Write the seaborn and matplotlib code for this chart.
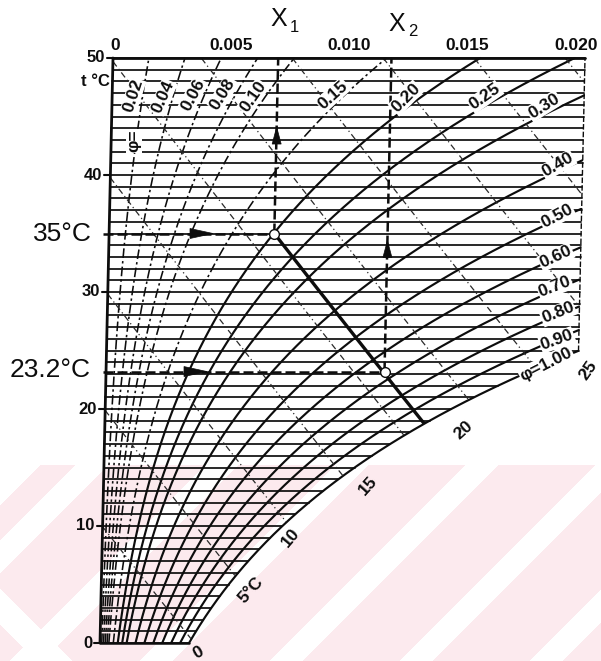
import numpy as np
import pandas as pd
import matplotlib
matplotlib.use("Agg")
import matplotlib.pyplot as plt
import seaborn as sns
from matplotlib.patches import Polygon

# ---------------- data ----------------
phi_levels = [0.02, 0.04, 0.06, 0.08, 0.10, 0.15, 0.20, 0.25, 0.30,
              0.40, 0.50, 0.60, 0.70, 0.80, 0.90, 1.00]
phi_dashed = [0.02, 0.04, 0.06, 0.08, 0.10, 0.15]
phi_label_text = ["0.02", "0.04", "0.06", "0.08", "0.10", "0.15", "0.20", "0.25",
                  "0.30", "0.40", "0.50", "0.60", "0.70", "0.80", "0.90", "φ=1.00"]
isotherms = list(range(0, 51))
enthalpy_levels = [10, 20, 30, 40, 50, 60, 70, 80, 90, 100]
wetbulb_labels = ["0", "5°C", "10", "15", "20", "25"]
x_ticks = [0.0, 0.005, 0.010, 0.015, 0.020]
x_tick_labels = ["0", "0.005", "0.010", "0.015", "0.020"]
t_ticks = [0, 10, 20, 30, 40, 50]
X1, X2 = 0.0070, 0.0118
T_in, T_out = 35.0, 23.2
P_atm = 101.325

# ---------------- layout ----------------
W, H, DPI = 601, 661, 100
PX_X = 23600.0
PX_T = 11.7
X0_PX, T0_PY = 113.0, 643.0
SK = 13.0 / 50.0 / PX_X   # slight shear of the scanned chart
INK = "#0d0d0d"


def psat(T):
    return 0.61094 * np.exp(17.625 * T / (T + 243.04))


def xw(T, phi):
    ps = psat(T)
    return 0.622 * phi * ps / (P_atm - phi * ps)


def enth(T, x):
    return 1.006 * T + x * (2501 + 1.86 * T)


def sx(x, T):
    return np.asarray(x) - SK * (50 - np.asarray(T))


def d(px, py):
    return (px - X0_PX) / PX_X, (T0_PY - py) / PX_T


def to_px(x, T):
    return X0_PX + x * PX_X, T0_PY - T * PX_T


sns.set_theme(style="white")
plt.rcParams["font.family"] = ["Liberation Sans", "DejaVu Sans"]

fig = plt.figure(figsize=(W / DPI, H / DPI), dpi=DPI)
fig.patch.set_facecolor("white")

# faint pink watermark stripes (lower part of the scan)
yy, xx = np.mgrid[0:H, 0:W]
img = np.ones((H, W, 3))
mask = (yy >= 465) & (((xx + yy - 930) % 130) >= 33) & (xx + yy >= 505)
mask &= ~((xx < 130) & ((yy - xx) > 588) & ((yy - xx) < 625))
img[mask] = np.array([252, 234, 238]) / 255.0
fig.figimage(img, xo=0, yo=0, origin="upper", zorder=-10)

ax = fig.add_axes([0, 0, 1, 1])
ax.patch.set_alpha(0)
ax.set_xlim(-X0_PX / PX_X, (W - X0_PX) / PX_X)
ax.set_ylim(-(H - T0_PY) / PX_T, T0_PY / PX_T)
ax.axis("off")

Tgrid = np.round(np.arange(0, 50.0001, 0.05), 4)

# ---- isotherms ----
rows = []
for T in isotherms:
    xe = min(float(xw(T, 1.0)), 0.020)
    for xv in (0.0, xe):
        rows.append(dict(T=T, xp=float(sx(xv, T)), id=T))
iso = pd.DataFrame(rows)
sns.lineplot(data=iso, x="xp", y="T", units="id", estimator=None, sort=False,
             color=INK, lw=1.25, ax=ax)

# ---- relative humidity curves ----
rows_s, rows_d = [], []
for phi in phi_levels:
    xs = xw(Tgrid, phi)
    keep = xs <= 0.0200001
    for T, xv in zip(Tgrid[keep], xs[keep]):
        r = dict(T=T, xp=float(sx(xv, T)), phi=phi)
        (rows_d if phi in phi_dashed else rows_s).append(r)
sns.lineplot(data=pd.DataFrame(rows_s), x="xp", y="T", units="phi", estimator=None,
             sort=False, color=INK, lw=1.55, ax=ax)
sns.lineplot(data=pd.DataFrame(rows_d), x="xp", y="T", units="phi", estimator=None,
             sort=False, color=INK, lw=1.15, linestyle=(0, (6, 2, 1.5, 2)), ax=ax)

# ---- isenthalps (dash-dot) ----
rows = []
xline = np.linspace(0, 0.020, 801)
for h in enthalpy_levels:
    Tl = (h - 2501 * xline) / (1.006 + 1.86 * xline)
    ok = (Tl <= 50) & (Tl >= 0) & (xline <= xw(np.clip(Tl, 0, 60), 1.0))
    for T, xv in zip(Tl[ok], xline[ok]):
        rows.append(dict(T=T, xp=float(sx(xv, T)), h=h))
sns.lineplot(data=pd.DataFrame(rows), x="xp", y="T", units="h", estimator=None,
             sort=False, color="#2a2a2a", lw=0.9, linestyle=(0, (5, 2.5, 1, 2.5)), ax=ax)

# ---- frame ----
ax.plot(sx([0, 0.020], [50, 50]), [50, 50], color=INK, lw=2.0)
ax.plot(sx([0, 0], [0, 50]), [0, 50], color=INK, lw=2.0)
ax.plot(sx([0, float(xw(0, 1.0))], [0, 0]), [0, 0], color=INK, lw=1.8)
Tr = Tgrid[xw(Tgrid, 1.0) <= 0.020].max()
ax.plot(sx([0.020, 0.020], [Tr, 50]), [Tr, 50], color=INK, lw=1.0,
        linestyle=(0, (4, 1.5)))

# left ticks and labels
for t in t_ticks:
    xe = float(sx(0, t))
    ax.plot([xe - 6 / PX_X, xe], [t, t], color=INK, lw=1.5)
    ax.text(xe - 8 / PX_X, t, str(t), ha="right", va="center", fontsize=12,
            fontweight="bold", color=INK)
ax.text(*d(110, 81), "t °C", ha="right", va="center", fontsize=12,
        fontweight="bold", color=INK)

# top tick labels
for xv, lab in zip(x_ticks, x_tick_labels):
    off = -9 if xv == 0.020 else (2 if xv == 0 else 0)
    ax.annotate(lab, xy=(xv, d(0, 46)[1]), xytext=(off, 0), textcoords="offset pixels",
                ha="center", va="center", fontsize=12.5, fontweight="bold", color=INK)

# phi labels
phi_lab_pos = [(133, 96, 72), (163, 97, 66), (193, 95, 62), (223, 94, 58), (253, 97, 55),
               (333, 95, 42), (406, 98, 45), (485, 97, 35), (544, 106, 32),
               (558, 165, 30), (557, 216, 28), (556, 257, 25), (555, 287, 21),
               (558, 313, 22), (557, 340, 20), (546, 364, 27)]
for lab, (px, py, rot) in zip(phi_label_text, phi_lab_pos):
    ax.text(*d(px, py), lab, ha="center", va="center", rotation=rot, fontsize=12.5,
            fontweight="bold", color=INK, rotation_mode="anchor",
            bbox=dict(boxstyle="square,pad=0.05", fc="white", ec="none"), zorder=5)
ax.text(*d(134, 141), "φ=", ha="center", va="center", rotation=90, fontsize=12.5,
        fontweight="bold", color=INK,
        bbox=dict(boxstyle="square,pad=0.05", fc="white", ec="none"), zorder=5)

# wet bulb labels along saturation curve
wb_pos = [(198, 653, 30), (251, 590, 48), (291, 538, 50), (368, 486, 48),
          (464, 430, 42), (588, 370, 55)]
for lab, (px, py, rot) in zip(wetbulb_labels, wb_pos):
    ax.text(*d(px, py), lab, ha="center", va="center", rotation=rot, fontsize=12.5,
            fontweight="bold", color=INK, rotation_mode="anchor", zorder=5)

# ---- process: heating at X1, adiabatic line to X2 ----
dash_kw = dict(color=INK, lw=1.8, linestyle=(0, (4, 1.6)))
ax.plot(sx([X1, X1], [T_in, 50]), [T_in, 50], **dash_kw)
ax.plot(sx([X2, X2], [T_out, 50]), [T_out, 50], **dash_kw)
ax.plot([d(103, 0)[0], float(sx(X1, T_in))], [T_in, T_in], **dash_kw)
ax.plot([d(103, 0)[0], float(sx(X2, T_out))], [T_out, T_out], **dash_kw)

h1 = enth(T_in, X1)
xl = np.linspace(X1, 0.02, 2000)
Tl = (h1 - 2501 * xl) / (1.006 + 1.86 * xl)
ok = xl <= xw(Tl, 1.0)
ax.plot(sx(xl[ok], Tl[ok]), Tl[ok], color=INK, lw=2.4, solid_capstyle="butt", zorder=4)

ax.plot(sx([X1, X2], [T_in, T_out]), [T_in, T_out], linestyle="none", marker="o",
        ms=7, mfc="white", mec=INK, mew=1.0, zorder=6)


def arrow_head(tip_px, direction, length=16, width=8):
    tx, ty = tip_px
    ux, uy = direction
    bx, by = tx - ux * length, ty - uy * length
    nx, ny = -uy, ux
    pts_px = [(tx, ty), (bx + nx * width / 2, by + ny * width / 2),
              (bx - nx * width / 2, by - ny * width / 2)]
    pts = [d(px, py) for px, py in pts_px]
    ax.add_patch(Polygon(pts, closed=True, fc=INK, ec=INK, lw=0.5, zorder=7))


arrow_head(to_px(float(sx(X1, 44.1)), 44.1), (0, -1), length=17, width=9)
arrow_head(to_px(float(sx(X2, 34.4)), 34.4), (0, -1), length=17, width=9)
arrow_head((213, to_px(0, T_in)[1]), (1, 0), length=23, width=10)
arrow_head((207, to_px(0, T_out)[1]), (1, 0), length=23, width=10)

# big annotations
ax.text(*d(92, 234), "35°C", ha="right", va="center", fontsize=19, color=INK)
ax.text(*d(91, 370), "23.2°C", ha="right", va="center", fontsize=19, color=INK)
ax.text(*d(279, 19), "X", ha="center", va="center", fontsize=18, color=INK)
ax.text(*d(294, 28), "1", ha="center", va="center", fontsize=12, color=INK)
ax.text(*d(397, 24), "X", ha="center", va="center", fontsize=18, color=INK)
ax.text(*d(413, 31), "2", ha="center", va="center", fontsize=12, color=INK)

fig.savefig("out.png", dpi=DPI, facecolor="white")
